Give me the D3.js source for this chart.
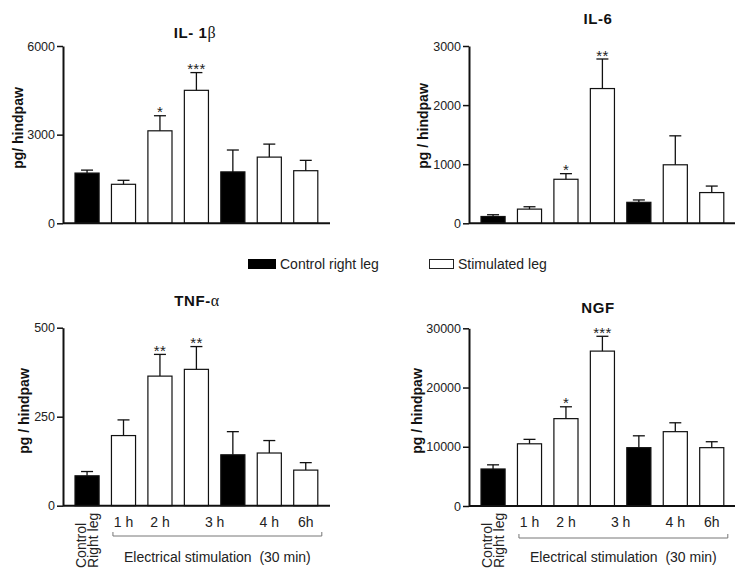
<!DOCTYPE html>
<html>
<head>
<meta charset="utf-8">
<script src="https://cdnjs.cloudflare.com/ajax/libs/d3/7.8.5/d3.min.js"></script>
<style>
  html, body { margin: 0; padding: 0; background: #fff; }
  svg { display: block; font-family: Arial, "Liberation Sans", Helvetica, sans-serif; }
</style>
</head>
<body>
<svg id="chart" width="753" height="583"></svg>
<script>
// ---------------- data ----------------
const categories = ["Control", "1 h", "2 h", "3 h", "Control 3 h", "4 h", "6h"];
const groups = ["control", "stim", "stim", "stim", "control", "stim", "stim"];

const il1bMean = [1700, 1320, 3130, 4500, 1740, 2240, 1780];
const il1bSem  = [100, 135, 510, 600, 740, 440, 350];
const il1bStars = ["", "", "*", "***", "", "", ""];
const il1bTicks = [0, 3000, 6000];

const il6Mean = [115, 240, 745, 2280, 355, 990, 520];
const il6Sem  = [30, 40, 95, 500, 40, 490, 110];
const il6Stars = ["", "", "*", "**", "", "", ""];
const il6Ticks = [0, 1000, 2000, 3000];

const tnfMean = [84, 197, 364, 383, 143, 148, 100];
const tnfSem  = [12, 44, 61, 64, 65, 35, 21];
const tnfStars = ["", "", "**", "**", "", "", ""];
const tnfTicks = [0, 250, 500];

const ngfMean = [6250, 10500, 14750, 26150, 9850, 12550, 9850];
const ngfSem  = [700, 750, 2000, 2500, 2000, 1500, 1000];
const ngfStars = ["", "", "*", "***", "", "", ""];
const ngfTicks = [0, 10000, 20000, 30000];

const timeLabels = ["1 h", "2 h", "3 h", "4 h", "6h"];
const legendLabels = ["Control right leg", "Stimulated leg"];

// ---------------- layout ----------------
const svg = d3.select("#chart");

const panels = [
  { title: "IL- 1", greek: "β", mean: il1bMean, sem: il1bSem, stars: il1bStars, ticks: il1bTicks,
    ox: 63, yTop: 46, yBot: 223.3, barStart: 75, axisEnd: 330,
    titleX: 195, titleY: 38, ylabel: "pg/ hindpaw", ylabelX: 18, ylabelY: 128, xlabels: false },
  { title: "IL-6", greek: "", mean: il6Mean, sem: il6Sem, stars: il6Stars, ticks: il6Ticks,
    ox: 469, yTop: 46, yBot: 223.3, barStart: 481, axisEnd: 735,
    titleX: 598, titleY: 24, ylabel: "pg / hindpaw", ylabelX: 423, ylabelY: 126, xlabels: false },
  { title: "TNF-", greek: "α", mean: tnfMean, sem: tnfSem, stars: tnfStars, ticks: tnfTicks,
    ox: 63, yTop: 327.7, yBot: 505.7, barStart: 75, axisEnd: 330,
    titleX: 197, titleY: 306, ylabel: "pg / hindpaw", ylabelX: 24, ylabelY: 411, xlabels: true, bracketY: 536 },
  { title: "NGF", greek: "", mean: ngfMean, sem: ngfSem, stars: ngfStars, ticks: ngfTicks,
    ox: 469, yTop: 328.3, yBot: 506, barStart: 481, axisEnd: 735,
    titleX: 598, titleY: 313, ylabel: "pg / hindpaw", ylabelX: 417, ylabelY: 411, xlabels: true, bracketY: 538 }
];

const barW = 24.1, step = 36.45;

panels.forEach(p => {
  const g = svg.append("g");
  const x = d3.scaleBand()
    .domain(categories)
    .range([p.barStart, p.barStart + 6 * step + barW])
    .paddingInner(1 - barW / step)
    .paddingOuter(0);
  const y = d3.scaleLinear()
    .domain([0, d3.max(p.ticks)])
    .range([p.yBot, p.yTop]);

  // bars
  g.selectAll("rect.bar")
    .data(categories.map((c, i) => ({ c, i, v: p.mean[i], e: p.sem[i], s: p.stars[i], grp: groups[i] })))
    .join("rect")
    .attr("class", "bar")
    .attr("x", d => x(d.c))
    .attr("y", d => y(d.v))
    .attr("width", x.bandwidth())
    .attr("height", d => y(0) - y(d.v))
    .attr("fill", d => d.grp === "control" ? "#000" : "#fff")
    .attr("stroke", "#111")
    .attr("stroke-width", 1.2);

  // error bars (upward only)
  const eg = g.selectAll("g.err")
    .data(categories.map((c, i) => ({ c, v: p.mean[i], e: p.sem[i], s: p.stars[i] })))
    .join("g").attr("class", "err");
  eg.append("line")
    .attr("x1", d => x(d.c) + x.bandwidth() / 2)
    .attr("x2", d => x(d.c) + x.bandwidth() / 2)
    .attr("y1", d => y(d.v))
    .attr("y2", d => y(d.v + d.e))
    .attr("stroke", "#111").attr("stroke-width", 1.3);
  eg.append("line")
    .attr("x1", d => x(d.c) + x.bandwidth() / 2 - 6)
    .attr("x2", d => x(d.c) + x.bandwidth() / 2 + 6)
    .attr("y1", d => y(d.v + d.e))
    .attr("y2", d => y(d.v + d.e))
    .attr("stroke", "#111").attr("stroke-width", 1.3);
  eg.filter(d => d.s).append("text")
    .attr("x", d => x(d.c) + x.bandwidth() / 2)
    .attr("y", d => y(d.v + d.e) + 1.5)
    .attr("text-anchor", "middle")
    .attr("font-size", 15)
    .attr("letter-spacing", 0.3)
    .attr("fill", "#222")
    .text(d => d.s);

  // x axis line
  g.append("line")
    .attr("x1", p.ox).attr("x2", p.axisEnd)
    .attr("y1", y(0)).attr("y2", y(0))
    .attr("stroke", "#111").attr("stroke-width", 2);

  // y axis
  const ax = g.append("g")
    .attr("transform", `translate(${p.ox},0)`)
    .call(d3.axisLeft(y).tickValues(p.ticks).tickSize(6).tickSizeOuter(0).tickPadding(2).tickFormat(d3.format("d")));
  ax.select(".domain").attr("stroke", "#111").attr("stroke-width", 2);
  ax.selectAll(".tick line").attr("stroke", "#111").attr("stroke-width", 1.5);
  ax.selectAll(".tick text").attr("font-size", 12.5).attr("fill", "#222")
    .attr("font-family", "Arial, 'Liberation Sans', Helvetica, sans-serif");

  // title
  const t = g.append("text")
    .attr("x", p.titleX).attr("y", p.titleY)
    .attr("text-anchor", "middle")
    .attr("font-size", 15).attr("font-weight", "bold")
    .attr("letter-spacing", 0.6)
    .attr("fill", "#111");
  t.append("tspan").text(p.title);
  if (p.greek) {
    t.append("tspan")
      .attr("font-weight", "normal")
      .attr("font-family", "'Liberation Serif', 'DejaVu Serif', serif")
      .attr("font-size", 16)
      .text(p.greek);
  }

  // y label
  g.append("text")
    .attr("transform", `translate(${p.ylabelX},${p.ylabelY}) rotate(-90)`)
    .attr("text-anchor", "middle")
    .attr("dy", "0.35em")
    .attr("font-size", 14).attr("font-weight", "bold")
    .attr("fill", "#111")
    .text(p.ylabel);

  if (p.xlabels) {
    const cx = c => x(c) + x.bandwidth() / 2;
    // control label (rotated)
    g.append("text")
      .attr("transform", `translate(${cx(categories[0]) - 1},568) rotate(-90)`)
      .attr("font-size", 14).attr("fill", "#222")
      .text("Control");
    g.append("text")
      .attr("transform", `translate(${cx(categories[0]) + 11},568) rotate(-90)`)
      .attr("font-size", 14).attr("fill", "#222")
      .text("Right leg");
    // time labels
    const timePos = [
      cx(categories[1]),
      cx(categories[2]),
      (cx(categories[3]) + cx(categories[4])) / 2,
      cx(categories[5]),
      cx(categories[6])
    ];
    g.selectAll("text.time")
      .data(timeLabels)
      .join("text")
      .attr("class", "time")
      .attr("x", (d, i) => timePos[i])
      .attr("y", 527)
      .attr("text-anchor", "middle")
      .attr("font-size", 14).attr("fill", "#222")
      .text(d => d);
    // bracket
    const bx1 = x(categories[1]) + 1.5;
    const bx2 = x(categories[6]) + x.bandwidth() + 4;
    g.append("path")
      .attr("d", `M${bx1},${p.bracketY - 4}V${p.bracketY}H${bx2}V${p.bracketY - 4}`)
      .attr("fill", "none").attr("stroke", "#777").attr("stroke-width", 1);
    g.append("text")
      .attr("x", (bx1 + bx2) / 2).attr("y", 562)
      .attr("text-anchor", "middle")
      .attr("font-size", 14).attr("fill", "#222")
      .attr("xml:space", "preserve")
      .style("white-space", "pre")
      .text("Electrical stimulation  (30 min)");
  }
});

// legend
const leg = svg.append("g");
leg.append("rect").attr("x", 248).attr("y", 259).attr("width", 28).attr("height", 10).attr("fill", "#000");
leg.append("text").attr("x", 280).attr("y", 269).attr("font-size", 14).attr("fill", "#222").text(legendLabels[0]);
leg.append("rect").attr("x", 429.5).attr("y", 259.5).attr("width", 24).attr("height", 9)
  .attr("fill", "#fff").attr("stroke", "#222").attr("stroke-width", 1);
leg.append("text").attr("x", 458).attr("y", 269).attr("font-size", 14).attr("fill", "#222").text(legendLabels[1]);
</script>
</body>
</html>
